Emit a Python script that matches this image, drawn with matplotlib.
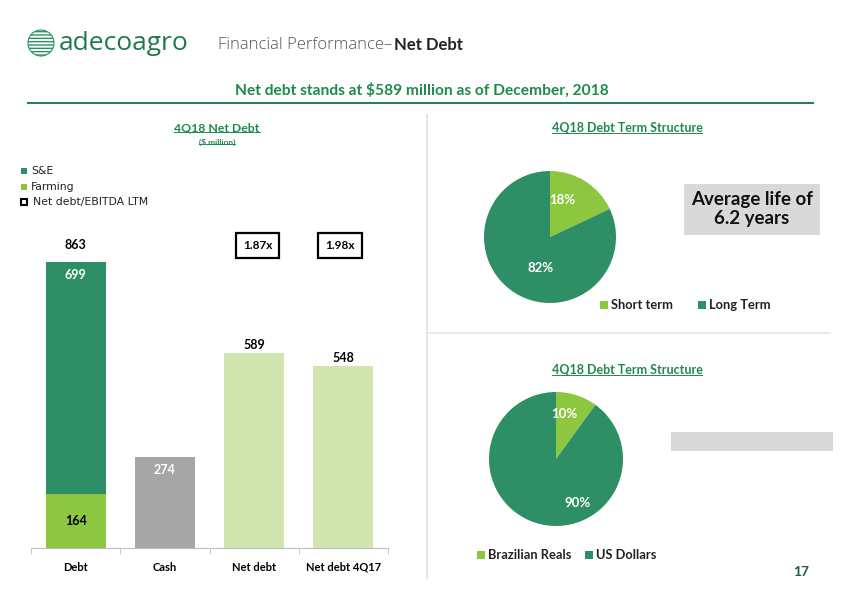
import matplotlib.pyplot as plt
from matplotlib.patches import Rectangle, Ellipse
from matplotlib.lines import Line2D

# bar chart data ($ million)
categories = ['Debt', 'Cash', 'Net debt', 'Net debt 4Q17']
farming = [164, 0, 0, 0]
s_and_e = [699, 0, 0, 0]
cash = [0, 274, 0, 0]
net_debt = [0, 0, 589, 548]
leverage = ['', '', '1.87x', '1.98x']

# pies
term_labels = ['Short term', 'Long Term']
term_share = [18, 82]
ccy_labels = ['Brazilian Reals', 'US Dollars']
ccy_share = [10, 90]

DARK = '#2e8f66'
LIGHT = '#8dc63f'
PALE = '#d0e5b0'
GREY = '#a6a6a6'
TITLE_GREEN = '#1e8a4c'

W, H = 842, 595
fig = plt.figure(figsize=(W / 100, H / 100), dpi=100)
plt.rcParams['font.family'] = ['Lato', 'DejaVu Sans']


def fx(x):
    return x / W


def fy(y):
    return 1 - y / H


def px_axes(left, top, right, bottom):
    return fig.add_axes([fx(left), fy(bottom), (right - left) / W, (bottom - top) / H])


# ---- header ----
logo = Ellipse((fx(41), fy(43)), 26 / W, 26 / H, transform=fig.transFigure, facecolor='white',
               edgecolor=DARK, hatch='-----', lw=0.8)
fig.patches.append(logo)
fig.text(fx(59), fy(44), 'adecoagro', fontsize=19, color='#1f7a4a', va='center',
         family=['Open Sans', 'DejaVu Sans'])
fig.text(fx(218), fy(45), 'Financial Performance\u2013 ', fontsize=12, color='#555555',
         va='center', family=['Open Sans', 'DejaVu Sans'], fontweight='light')
fig.text(fx(394), fy(45), 'Net Debt', fontsize=12, color='#222222', va='center',
         fontweight='bold')
fig.text(fx(422), fy(90), 'Net debt stands at $589 million as of December, 2018',
         fontsize=11.2, color=TITLE_GREEN, fontweight='bold', ha='center', va='center')
fig.add_artist(Line2D([fx(28), fx(813)], [fy(103), fy(103)], color='#2e7d5a', lw=1.5))
fig.add_artist(Line2D([fx(427), fx(427)], [fy(115), fy(578)], color='#e6e6e6', lw=1.5))
fig.add_artist(Line2D([fx(427), fx(830)], [fy(333), fy(333)], color='#e6e6e6', lw=1.2))

titles = []
titles.append(fig.text(fx(217), fy(128), '4Q18 Net Debt', fontsize=8.8, color=TITLE_GREEN,
                       fontweight='bold', ha='center', va='center'))
titles.append(fig.text(fx(217), fy(142), '($ million)', fontsize=6, color=TITLE_GREEN,
                       fontweight='bold', ha='center', va='center'))
titles.append(fig.text(fx(627), fy(128), '4Q18 Debt Term Structure', fontsize=9,
                       color=TITLE_GREEN, fontweight='bold', ha='center', va='center'))
titles.append(fig.text(fx(627), fy(370), '4Q18 Debt Term Structure', fontsize=9,
                       color=TITLE_GREEN, fontweight='bold', ha='center', va='center'))

# legend of bar chart
leg_items = [('S&E', DARK, None), ('Farming', LIGHT, None), ('Net debt/EBITDA LTM', 'white', 'black')]
for i, (lab, fc, ec) in enumerate(leg_items):
    y = 171 + i * 15.5
    fig.patches.append(Rectangle((fx(21), fy(y + 3)), 6 / W, 6 / H, transform=fig.transFigure,
                                 facecolor=fc, edgecolor=ec or fc, lw=1.5 if ec else 0))
    fig.text(fx(31 + (2 if ec else 0)), fy(y), lab, fontsize=7.8, color='#222222', va='center',
             family=['DejaVu Sans'])

# ---- bar chart ----
ax = px_axes(31, 230, 388, 548)
x = range(len(categories))
w = 0.67
ax.bar(x, farming, w, color=LIGHT)
ax.bar(x, s_and_e, w, bottom=farming, color=DARK)
ax.bar(x, cash, w, color=GREY)
ax.bar(x, net_debt, w, color=PALE)
ax.set_xlim(-0.5, 3.5)
ax.set_ylim(0, 960)
for s in ['top', 'right', 'left']:
    ax.spines[s].set_visible(False)
ax.spines['bottom'].set_color('#bfbfbf')
ax.set_yticks([])
ax.set_xticks(list(x))
ax.set_xticklabels(categories, fontsize=8, fontweight='bold')
ax.tick_params(axis='x', which='major', length=0, pad=10)
ax.set_xticks([i - 0.5 for i in range(len(categories) + 1)], minor=True)
ax.tick_params(axis='x', which='minor', length=4, color='#bfbfbf')

total = [f + s for f, s in zip(farming, s_and_e)]
ax.text(0, total[0] + 52, str(total[0]), ha='center', va='center', fontsize=9, fontweight='bold')
ax.text(0, total[0] - 40, str(s_and_e[0]), ha='center', va='center', fontsize=9,
        fontweight='bold', color='white')
ax.text(0, farming[0] / 2, str(farming[0]), ha='center', va='center', fontsize=9,
        fontweight='bold', color='black')
ax.text(1, cash[1] - 40, str(cash[1]), ha='center', va='center', fontsize=9,
        fontweight='bold', color='white')
for i in (2, 3):
    ax.text(i, net_debt[i] + 25, str(net_debt[i]), ha='center', va='center', fontsize=9,
            fontweight='bold')
for i, lab in enumerate(leverage):
    if lab:
        ax.text(i + 0.04 - 0.08 * (i == 3), 914, lab, ha='center', va='center', fontsize=8.5,
                fontweight='bold',
                bbox=dict(boxstyle='square,pad=0.6', facecolor='white', edgecolor='black', lw=1.6))


# ---- pies ----
def draw_pie(left, top, size, shares, label_pos, legend_y, legend_x, labels):
    pax = px_axes(left, top, left + size, top + size)
    wedges, _, autotexts = pax.pie(shares, colors=[LIGHT, DARK], startangle=90,
                                   counterclock=False, autopct='%d%%', pctdistance=0.6,
                                   textprops=dict(color='white', fontweight='bold', fontsize=9.5))
    for t, pos in zip(autotexts, label_pos):
        t.set_position(pos)
    pax.set_xlim(-1, 1)
    pax.set_ylim(-1, 1)
    pax.set_aspect('equal')
    for lab, col, lx in zip(labels, [LIGHT, DARK], legend_x):
        fig.patches.append(Rectangle((fx(lx), fy(legend_y + 4)), 8 / W, 8 / H,
                                     transform=fig.transFigure, facecolor=col))
        fig.text(fx(lx + 11), fy(legend_y), lab, fontsize=9.3, fontweight='bold',
                 color='#222222', va='center')


draw_pie(484, 171, 132, term_share, [(0.18, 0.56), (-0.14, -0.47)], 305, [600, 698], term_labels)
draw_pie(489, 392, 134, ccy_share, [(0.13, 0.67), (0.33, -0.66)], 555, [477, 585], ccy_labels)

# average life box
fig.patches.append(Rectangle((fx(684), fy(235)), 136 / W, 51 / H, transform=fig.transFigure,
                             facecolor='#d9d9d9'))
fig.text(fx(752), fy(209), 'Average life of\n6.2 years', fontsize=13.5, fontweight='bold',
         ha='center', va='center', color='#111111', linespacing=1.2)
fig.patches.append(Rectangle((fx(671), fy(451)), 162 / W, 19 / H, transform=fig.transFigure,
                             facecolor='#d9d9d9'))

fig.text(fx(801), fy(572), '17', fontsize=10, fontweight='bold', color='#1f5f3f',
         ha='center', va='center')

# underline the section titles
fig.canvas.draw()
r = fig.canvas.get_renderer()
for t in titles:
    bb = t.get_window_extent(r).transformed(fig.transFigure.inverted())
    fig.add_artist(Line2D([bb.x0, bb.x1], [bb.y0 + 0.002, bb.y0 + 0.002],
                          color=TITLE_GREEN, lw=0.7))

fig.savefig('out.png', dpi=100)
